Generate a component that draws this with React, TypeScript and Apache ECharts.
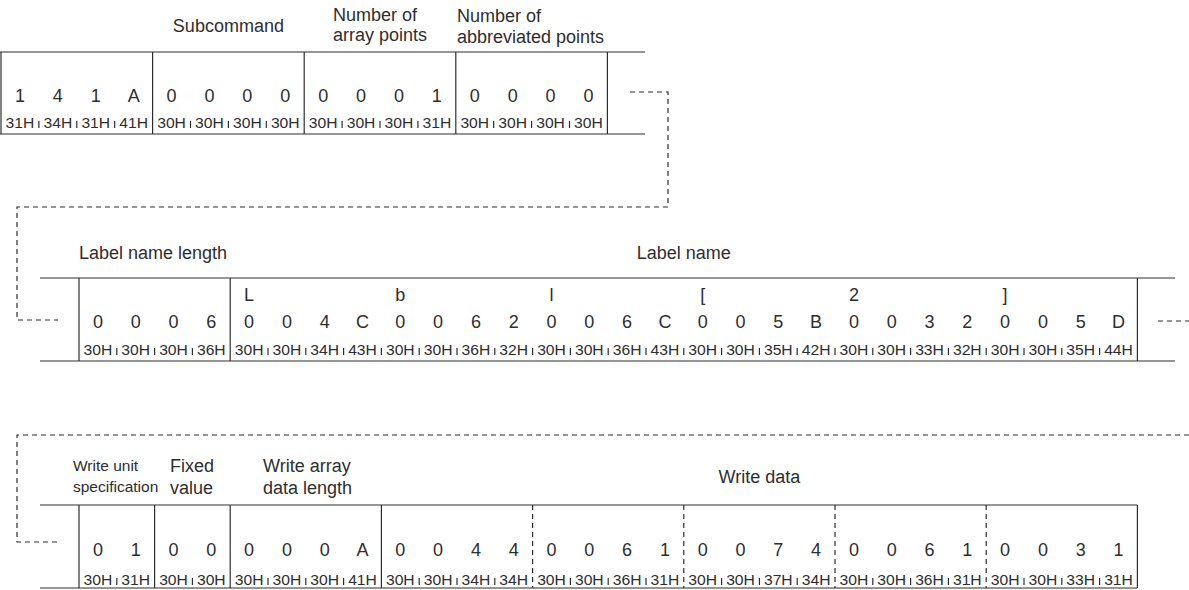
import React, { useEffect, useRef } from "react";
import * as echarts from "echarts";

// ---------- Data ----------
const row1Labels = ["Subcommand", "Number of\narray points", "Number of\nabbreviated points"];
const row1Chars = ["1", "4", "1", "A", "0", "0", "0", "0", "0", "0", "0", "1", "0", "0", "0", "0"];
const row1Hex = ["31H", "34H", "31H", "41H", "30H", "30H", "30H", "30H", "30H", "30H", "30H", "31H", "30H", "30H", "30H", "30H"];
const row1Groups = [4, 4, 4, 4];

const row2Labels = ["Label name length", "Label name"];
const row2Letters = ["L", "b", "l", "[", "2", "]"];
const row2Chars = ["0", "0", "0", "6", "0", "0", "4", "C", "0", "0", "6", "2", "0", "0", "6", "C", "0", "0", "5", "B", "0", "0", "3", "2", "0", "0", "5", "D"];
const row2Hex = ["30H", "30H", "30H", "36H", "30H", "30H", "34H", "43H", "30H", "30H", "36H", "32H", "30H", "30H", "36H", "43H", "30H", "30H", "35H", "42H", "30H", "30H", "33H", "32H", "30H", "30H", "35H", "44H"];
const row2Groups = [4, 24];

const row3Labels = ["Write unit\nspecification", "Fixed\nvalue", "Write array\ndata length", "Write data"];
const row3Chars = ["0", "1", "0", "0", "0", "0", "0", "A", "0", "0", "4", "4", "0", "0", "6", "1", "0", "0", "7", "4", "0", "0", "6", "1", "0", "0", "3", "1"];
const row3Hex = ["30H", "31H", "30H", "30H", "30H", "30H", "30H", "41H", "30H", "30H", "34H", "34H", "30H", "30H", "36H", "31H", "30H", "30H", "37H", "34H", "30H", "30H", "36H", "31H", "30H", "30H", "33H", "31H"];
const row3Groups = [2, 2, 4, 4, 4, 4, 4, 4];
const row3DashedAfter = [4, 5, 6, 7]; // group indices whose left divider is dashed

// ---------- Styles ----------
const INK = "#2e2e2e";
const FONT = "'Liberation Sans', Arial, Helvetica, sans-serif";
const LW = 1.2;
const DASH = [5, 4];

function txt(x: number, y: number, text: string, size: number, align = "center", scaleX = 1, lineHeight?: number) {
  return {
    type: "text",
    x,
    y,
    scaleX,
    silent: true,
    style: {
      x: 0,
      y: 0,
      text,
      fill: INK,
      font: `${size}px ${FONT}`,
      fontSize: size,
      fontFamily: FONT,
      align,
      textAlign: align,
      verticalAlign: "middle",
      textVerticalAlign: "middle",
      lineHeight: lineHeight || size * 1.2,
    },
  };
}

function ln(x1: number, y1: number, x2: number, y2: number, dashed = false) {
  return {
    type: "line",
    silent: true,
    shape: { x1, y1, x2, y2 },
    style: { stroke: INK, lineWidth: LW, lineDash: dashed ? DASH : null, fill: "none" },
  };
}

function poly(points: number[][]) {
  return {
    type: "polyline",
    silent: true,
    shape: { points },
    style: { stroke: INK, lineWidth: LW, lineDash: DASH, fill: "none" },
  };
}

type RowSpec = {
  x0: number;
  cw: number;
  top: number;
  bottom: number;
  lineLeft: number;
  lineRight: number;
  charY: number;
  hexY: number;
  chars: string[];
  hex: string[];
  groups: number[];
  dashed?: number[];
};

function buildRow(r: RowSpec) {
  const els: any[] = [];
  els.push(ln(r.lineLeft, r.top, r.lineRight, r.top));
  els.push(ln(r.lineLeft, r.bottom, r.lineRight, r.bottom));
  let idx = 0;
  const bounds: number[] = [0];
  r.groups.forEach((g) => {
    idx += g;
    bounds.push(idx);
  });
  bounds.forEach((b, i) => {
    const x = r.x0 + b * r.cw;
    const dashed = (r.dashed || []).includes(i);
    els.push(ln(x, r.top, x, r.bottom, dashed));
  });
  r.chars.forEach((c, i) => {
    const cx = r.x0 + (i + 0.5) * r.cw;
    els.push(txt(cx, r.charY, c, 18));
    els.push(txt(cx, r.hexY, r.hex[i], 14, "center", 1.12));
  });
  for (let i = 1; i < r.chars.length; i++) {
    if (bounds.includes(i)) continue;
    const x = r.x0 + i * r.cw;
    els.push(ln(x, r.hexY - 2, x, r.hexY + 5));
  }
  return els;
}

export default function App() {
  const ref = useRef<HTMLDivElement>(null);
  useEffect(() => {
    if (!ref.current) return;
    const chart = echarts.init(ref.current, undefined, { renderer: "svg" });
    const cw = 37.8;
    const els: any[] = [];

    // Row 1
    const r1x0 = 1;
    const r1cw = 37.9;
    els.push(
      ...buildRow({
        x0: r1x0, cw: r1cw, top: 52, bottom: 134, lineLeft: 0, lineRight: 645,
        charY: 96, hexY: 123, chars: row1Chars, hex: row1Hex, groups: row1Groups,
      })
    );
    els.push(txt(r1x0 + 6 * r1cw, 26, row1Labels[0], 18));
    els.push(txt(333, 25, row1Labels[1], 18, "left", 1, 20));
    els.push(txt(457, 26, row1Labels[2], 18, "left", 1, 21));

    // connector 1 -> 2
    els.push(poly([[630, 92], [668, 92], [668, 207], [17, 207], [17, 320], [58, 320]]));

    // Row 2
    const r2x0 = 79;
    els.push(
      ...buildRow({
        x0: r2x0, cw, top: 278, bottom: 361, lineLeft: 40, lineRight: 1175,
        charY: 322, hexY: 350, chars: row2Chars, hex: row2Hex, groups: row2Groups,
      })
    );
    row2Letters.forEach((l, i) => {
      els.push(txt(r2x0 + (4 + i * 4 + 0.5) * cw, 295, l, 18));
    });
    els.push(txt(r2x0, 253, row2Labels[0], 18, "left"));
    els.push(txt(r2x0 + 16 * cw, 253, row2Labels[1], 18));
    els.push(poly([[1158, 321], [1189, 321]]));

    // connector 2 -> 3
    els.push(poly([[1189, 435], [17, 435], [17, 542], [58, 542]]));

    // Row 3
    const r3x0 = 79;
    els.push(
      ...buildRow({
        x0: r3x0, cw, top: 505, bottom: 588, lineLeft: 40, lineRight: 1137,
        charY: 550, hexY: 580, chars: row3Chars, hex: row3Hex, groups: row3Groups, dashed: row3DashedAfter,
      })
    );
    els.push(txt(73, 476, row3Labels[0], 15.5, "left", 1, 21));
    els.push(txt(170, 477, row3Labels[1], 18, "left", 1, 22));
    els.push(txt(263, 477, row3Labels[2], 18, "left", 1, 22));
    els.push(txt(r3x0 + 18 * cw, 477, row3Labels[3], 18));

    chart.setOption({
      animation: false,
      backgroundColor: "#ffffff",
      graphic: { elements: els },
    });
    return () => chart.dispose();
  }, []);
  return (
    <div
      ref={ref}
      style={{ position: "fixed", left: 0, top: 0, width: 1189, height: 590, background: "#fff" }}
    />
  );
}
